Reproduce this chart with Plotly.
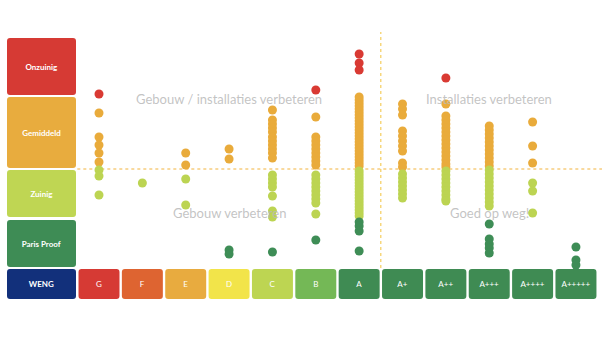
import plotly.graph_objects as go

# Energy label categories (x axis)
categories = ["G", "F", "E", "D", "C", "B", "A", "A+", "A++", "A+++", "A++++", "A+++++"]
cat_colors = ["#d63a34", "#de6431", "#e8ab3f", "#f2e44a", "#bdd552", "#74b856",
              "#3f8b53", "#3f8b53", "#3f8b53", "#3f8b53", "#3f8b53", "#3f8b53"]

# Score per building (higher = less efficient)
vals_G = [175, 156, 132, 124, 116, 107, 99, 93, 74]
vals_F = [86]
vals_E = [116, 104, 90, 64]
vals_D = [120, 110, 19, 15]
vals_C = [159, 149, 145, 141, 137, 132, 128, 124, 120, 116, 111,
          94, 90, 86, 82, 73, 58, 52, 17]
vals_B = [179, 152, 132, 128, 124, 120, 116, 112, 108, 104,
          94, 90, 86, 82, 78, 74, 70, 66, 55, 29]
vals_A = [215, 206, 199,
          172, 169, 166, 163, 160, 157, 154, 151, 148, 145, 142, 139, 136, 133,
          130, 127, 124, 121, 118, 115, 112, 109, 106, 103,
          98, 95, 92, 89, 86, 83, 80, 77, 74, 71, 68, 65, 62, 59, 56, 53,
          47, 43, 38, 18]
vals_Ap = [165, 160, 154, 138, 133, 128, 123, 118, 106, 102,
           95, 91, 87, 83, 79, 75, 71]
vals_App = [191, 165, 153, 149, 145, 141, 137, 133, 129, 125, 121, 117, 113, 109, 105, 102,
            98, 94, 90, 86, 82, 78, 74, 70, 68]
vals_Appp = [143, 139, 135, 131, 127, 123, 119, 115, 111, 107, 103,
             99, 95, 91, 87, 83, 79, 75, 71, 67, 63,
             45, 30, 25, 21, 16]
vals_Apppp = [147, 123, 106, 86, 78, 56]
vals_Appppp = [22, 9, 4]

all_vals = [vals_G, vals_F, vals_E, vals_D, vals_C, vals_B, vals_A,
            vals_Ap, vals_App, vals_Appp, vals_Apppp, vals_Appppp]

# Score bands (left legend)
band_labels = ["Onzuinig", "Gemiddeld", "Zuinig", "Paris Proof", "WENG"]
band_bottom = [174, 101, 52, 2, -30]
band_top = [231, 172, 99, 49, 0]
band_colors = ["#d63a34", "#e8ac3e", "#bfd653", "#3e8c55", "#12307b"]

# Thresholds between bands
thr_red = 173
thr_orange = 100
thr_green = 50

dot_red, dot_orange, dot_lgreen, dot_dgreen = "#d93a33", "#e9ab3b", "#bcd452", "#3e8d56"


def dot_color(v):
    if v > thr_red:
        return dot_red
    if v > thr_orange:
        return dot_orange
    if v > thr_green:
        return dot_lgreen
    return dot_dgreen


fig = go.Figure()

# bottom category boxes
fig.add_trace(go.Bar(
    x=list(range(len(categories))), y=[30] * len(categories), base=[-30] * len(categories),
    width=0.945, marker=dict(color=cat_colors, line=dict(width=0)),
    text=categories, textposition="inside", insidetextanchor="middle", textangle=0,
    textfont=dict(color="white", size=8, family="Lato"), hoverinfo="skip"))

# left band boxes
fig.add_trace(go.Bar(
    x=[-1.326] * len(band_labels),
    y=[t - b for t, b in zip(band_top, band_bottom)], base=band_bottom,
    width=1.591, marker=dict(color=band_colors, line=dict(width=0)),
    text=["<b>%s</b>" % s for s in band_labels], textposition="inside",
    insidetextanchor="middle", textangle=0,
    textfont=dict(color="white", size=9, family="Lato"), hoverinfo="skip"))

xs, ys, cs = [], [], []
for i, vals in enumerate(all_vals):
    for v in vals:
        xs.append(i)
        ys.append(v)
        cs.append(dot_color(v))

fig.add_trace(go.Scatter(x=xs, y=ys, mode="markers",
                         marker=dict(size=9, color=cs, line=dict(width=0)),
                         hoverinfo="skip"))

fig.add_shape(type="line", x0=-0.5, x1=11.6, y0=thr_orange, y1=thr_orange,
              line=dict(color="#f2b33d", width=1, dash="dot"), layer="below")
fig.add_shape(type="line", x0=6.5, x1=6.5, y0=1, y1=237,
              line=dict(color="#f2c33d", width=1, dash="dot"), layer="below")

gray = "rgba(185,185,185,0.85)"
for txt, x, y in [("Gebouw / installaties verbeteren", 3.0, 170),
                  ("Installaties verbeteren", 9.0, 170),
                  ("Gebouw verbeteren", 3.0, 56),
                  ("Goed op weg!", 9.0, 56)]:
    fig.add_annotation(x=x, y=y, text=txt, showarrow=False,
                       font=dict(color=gray, size=13, family="Lato"))

fig.update_layout(
    width=604, height=340, margin=dict(l=0, r=0, t=0, b=0),
    paper_bgcolor="white", plot_bgcolor="white",
    barmode="overlay", barcornerradius=3, showlegend=False, hovermode=False,
    xaxis=dict(visible=False, range=[-99 / 43.36, 505 / 43.36], fixedrange=True),
    yaxis=dict(visible=False, range=[-71, 269], fixedrange=True),
    uniformtext=dict(minsize=6, mode="show"),
)

fig.write_html("out.html")
